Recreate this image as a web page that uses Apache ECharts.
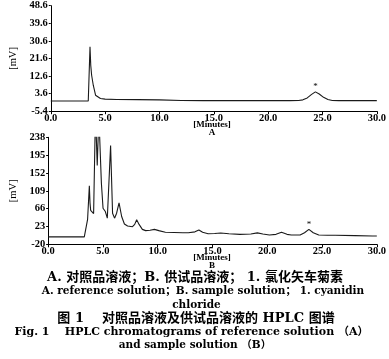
<!DOCTYPE html>
<html>
<head>
<meta charset="utf-8">
<script src="https://cdn.jsdelivr.net/npm/echarts@6/dist/echarts.min.js"></script>
<style>
html,body{margin:0;padding:0;background:#fff;}
#c{width:389px;height:359px;}
</style>
</head>
<body>
<div id="c"></div>
<script>
// ---- data ----
const xTicks = [0, 5, 10, 15, 20, 25, 30];
const yTicksA = [-5.4, 3.6, 12.6, 21.6, 30.6, 39.6, 48.6];
const yTicksB = [-20, 23, 66, 109, 152, 195, 238];

const timesA = [0, 3.45, 3.52, 3.61, 3.68, 3.76, 3.91, 4.12, 4.57, 5.0, 6.06, 8, 10, 12, 14, 16, 18, 20, 22, 22.8, 23.2, 23.6, 24.0, 24.35, 24.7, 25.1, 25.5, 25.9, 26.5, 28, 30];
const valuesA = [-0.2, -0.2, 0, 27.6, 18, 13, 7.9, 2.8, 1.1, 0.8, 0.6, 0.5, 0.4, 0.1, 0, 0, 0, 0, 0, 0.1, 0.4, 1.4, 3.2, 4.5, 3.4, 1.7, 0.6, 0.1, 0, 0, 0];

const timesB = [0, 3.30, 3.43, 3.60, 3.76, 3.82, 3.88, 3.97, 4.15, 4.32, 4.48, 4.63, 4.86, 5.01, 5.22, 5.40, 5.52, 5.70, 5.88, 6.06, 6.25, 6.47, 6.71, 6.96, 7.25, 7.70, 7.90, 8.08, 8.3, 8.6, 8.9, 9.3, 9.7, 10.1, 10.7, 11.5, 12.3, 12.8, 13.4, 13.76, 14.1, 14.6, 15.2, 15.75, 16.5, 17.5, 18.5, 19.1, 19.6, 20.2, 20.8, 21.3, 21.8, 22.2, 23.0, 23.4, 23.8, 24.2, 24.7, 25.5, 26.2, 28, 29.6, 30];
const valuesB = [-2, -2, 0, 40, 121, 80, 62, 66, 54, 300, 170, 290, 127, 67, 59, 43, 40, 218, 55, 43, 55, 80, 47, 29, 24, 22.5, 28, 39, 28, 16, 13, 14, 16, 13, 9, 8.5, 8, 8, 10, 14.5, 9, 5.6, 6, 7.2, 5.5, 4, 5, 7.5, 5, 2.4, 4, 9, 4, 2.4, 2.4, 8, 16, 8, 2.4, 2, 1.7, 1, 0, 0];

const peakA = [24.35, 4.5];
const peakB = [23.8, 16];

const captions = [
  'A. 对照品溶液；B. 供试品溶液； 1. 氯化矢车菊素',
  'A. reference solution；B. sample solution； 1. cyanidin',
  'chloride',
  '图 1    对照品溶液及供试品溶液的 HPLC 图谱',
  'Fig. 1    HPLC chromatograms of reference solution （A）',
  'and sample solution （B）'
];

// ---- chart ----
const FONT = "'Liberation Serif', 'Noto Sans CJK SC', serif";
const CAPFONT = "'DejaVu Serif', 'Noto Sans CJK SC', serif";
const chart = echarts.init(document.getElementById('c'), null, {renderer: 'canvas'});

function pairs(t, v) { return t.map((x, i) => [x, v[i]]); }

function xAxis(gi) {
  return {
    type: 'value', gridIndex: gi, min: 0, max: 30,
    axisLine: {show: true, onZero: false, lineStyle: {color: '#000', width: 1}},
    axisTick: {show: true, length: 3, customValues: xTicks, lineStyle: {color: '#000'}},
    axisLabel: {customValues: xTicks, formatter: v => v.toFixed(1), color: '#000',
      fontFamily: FONT, fontWeight: 'bold', fontSize: 10.5, margin: 2},
    splitLine: {show: false}
  };
}
function yAxis(gi, ticks) {
  return {
    type: 'value', gridIndex: gi, min: ticks[0], max: ticks[ticks.length - 1],
    name: '[mV]', nameLocation: 'middle', nameGap: 25, nameRotate: 90,
    nameTextStyle: {color: '#000', fontFamily: FONT, fontSize: 10.5},
    axisLine: {show: true, onZero: false, lineStyle: {color: '#000', width: 1}},
    axisTick: {show: true, length: 2, customValues: ticks, lineStyle: {color: '#000'}},
    axisLabel: {customValues: ticks, formatter: v => String(v), color: '#000',
      fontFamily: FONT, fontWeight: 'bold', fontSize: 10.5, margin: 3},
    splitLine: {show: false}
  };
}
function star(c) {
  return {
    symbol: 'circle', symbolSize: 1, itemStyle: {color: 'rgba(0,0,0,0)'},
    label: {show: true, formatter: '*', position: 'top', distance: 0, color: '#000', fontSize: 9, fontFamily: FONT},
    data: [{coord: c}]
  };
}

const cap = (t, x, y, size) => ({
  type: 'text', x: x, y: y,
  style: {text: t, fill: '#000', font: 'bold ' + size + 'px ' + CAPFONT, textAlign: 'center', textVerticalAlign: 'middle'}
});
const small = (t, y) => ({
  type: 'text', x: 212, y: y,
  style: {text: t, fill: '#000', font: 'bold 9px ' + FONT, textAlign: 'center', textVerticalAlign: 'middle'}
});

chart.setOption({
  animation: false,
  backgroundColor: '#fff',
  grid: [
    {left: 44.5, top: 5.7, width: 335, height: 105.5},
    {left: 43.5, top: 137.3, width: 336, height: 107}
  ],
  xAxis: [xAxis(0), xAxis(1)],
  yAxis: [yAxis(0, yTicksA), yAxis(1, yTicksB)],
  series: [
    {type: 'line', xAxisIndex: 0, yAxisIndex: 0, data: pairs(timesA, valuesA), showSymbol: false,
      lineStyle: {color: '#1a1a1a', width: 1.1}, clip: true, markPoint: star(peakA)},
    {type: 'line', xAxisIndex: 1, yAxisIndex: 1, data: pairs(timesB, valuesB), showSymbol: false,
      lineStyle: {color: '#1a1a1a', width: 1.1}, clip: true, markPoint: star(peakB)}
  ],
  graphic: [
    small('[Minutes]', 125),
    small('A', 132.5),
    small('[Minutes]', 258),
    small('B', 266),
    cap(captions[0], 195, 278, 13),
    cap(captions[1], 203, 291.5, 10.5),
    cap(captions[2], 196.5, 305, 10.5),
    cap(captions[3], 196, 318.5, 13),
    cap(captions[4], 191.5, 332, 11),
    cap(captions[5], 195, 345.5, 10.5)
  ]
});
</script>
</body>
</html>
